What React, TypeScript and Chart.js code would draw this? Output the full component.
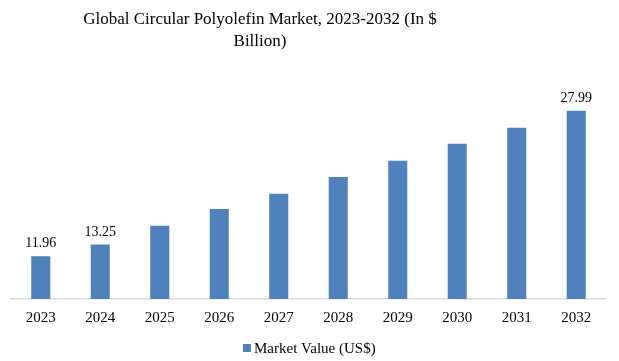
import React, { useEffect, useRef } from "react";
import { Chart, registerables } from "chart.js";

Chart.register(...registerables);

const years = ["2023", "2024", "2025", "2026", "2027", "2028", "2029", "2030", "2031", "2032"];
const marketValue = [11.96, 13.25, 15.33, 17.17, 18.86, 20.7, 22.49, 24.37, 26.13, 27.99];
const labelledIndices = [0, 1, 9];
const titleLines = ["Global Circular Polyolefin Market, 2023-2032 (In $", "Billion)"];
const seriesName = "Market Value (US$)";
const barColor = "#4F81BD";

const FONT = "'Liberation Serif', 'DejaVu Serif', serif";

const valueLabels = {
  id: "valueLabels",
  afterDatasetsDraw(chart: any) {
    const ctx = chart.ctx;
    const meta = chart.getDatasetMeta(0);
    ctx.save();
    ctx.fillStyle = "#000000";
    ctx.font = `14px ${FONT}`;
    ctx.textAlign = "center";
    ctx.textBaseline = "alphabetic";
    labelledIndices.forEach((i) => {
      const bar = meta.data[i];
      if (!bar) return;
      ctx.fillText(marketValue[i].toFixed(2), bar.x, bar.y - 9);
    });
    ctx.restore();
  },
};

const titleAndLegend = {
  id: "titleAndLegend",
  afterDraw(chart: any) {
    const ctx = chart.ctx;
    ctx.save();
    ctx.fillStyle = "#000000";
    ctx.font = `17px ${FONT}`;
    ctx.textAlign = "center";
    ctx.textBaseline = "middle";
    titleLines.forEach((line, i) => {
      ctx.fillText(line, 260, 20 + i * 22);
    });
    // legend
    ctx.fillStyle = barColor;
    ctx.fillRect(243, 344, 8, 8);
    ctx.fillStyle = "#000000";
    ctx.font = `15px ${FONT}`;
    ctx.textAlign = "left";
    ctx.textBaseline = "alphabetic";
    ctx.fillText(chart.data.datasets[0].label, 254, 352.7);
    ctx.restore();
  },
};

export default function App() {
  const ref = useRef<HTMLCanvasElement | null>(null);
  useEffect(() => {
    if (!ref.current) return;
    const chart = new Chart(ref.current, {
      type: "bar",
      data: {
        labels: years,
        datasets: [
          {
            label: seriesName,
            data: marketValue,
            backgroundColor: barColor,
            borderWidth: 0,
            categoryPercentage: 1,
            barPercentage: 0.32,
          },
        ],
      },
      options: {
        responsive: false,
        animation: false,
        layout: { padding: { left: 11, right: 13, top: 80, bottom: 24 } },
        plugins: {
          title: { display: false },
          legend: { display: false },
          tooltip: { enabled: false },
        },
        scales: {
          x: {
            grid: { display: false, drawTicks: false },
            border: { display: true, color: "#D9D9D9", width: 1.5 },
            ticks: { color: "#000000", font: { family: FONT, size: 15 }, padding: 10 },
          },
          y: {
            display: false,
            min: 7.26,
            max: 31.38,
          },
        },
      },
      plugins: [valueLabels, titleAndLegend],
    });
    return () => chart.destroy();
  }, []);
  return (
    <div style={{ position: "fixed", left: 0, top: 0, width: 619, height: 361, background: "#fff" }}>
      <canvas ref={ref} width={619} height={361} />
    </div>
  );
}
